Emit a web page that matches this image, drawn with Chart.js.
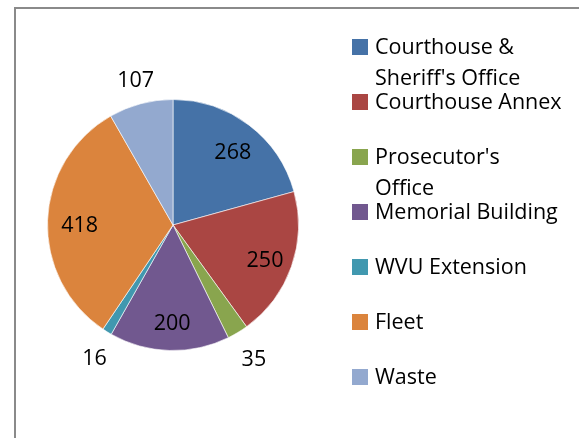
<!DOCTYPE html>
<html>
<head>
<meta charset="utf-8">
<script src="https://cdn.jsdelivr.net/npm/chart.js@4"></script>
<style>
  html, body { margin: 0; padding: 0; background: #fff; }
  #wrap { position: relative; width: 579px; height: 438px; overflow: hidden; }
  #frame { position: absolute; left: 14px; top: 7px; width: 700px; height: 500px; border: 2px solid #8a8a8a; box-sizing: border-box; }
  #pieChart { position: absolute; left: 0; top: 0; }
  #legend { position: absolute; left: 352px; top: 39px; font-family: "Open Sans", sans-serif; font-size: 21.5px; color: #000; }
  .item { position: relative; height: 55px; }
  .swatch { position: absolute; left: 0; top: 0; width: 16px; height: 16px; }
  .text { position: absolute; left: 23px; top: -9px; line-height: 31px; white-space: nowrap; }
</style>
</head>
<body>
<div id="wrap">
  <div id="frame"></div>
  <canvas id="pieChart" width="579" height="438"></canvas>
  <div id="legend"></div>
</div>
<script>
const categories = [
  ['Courthouse &', "Sheriff's Office"],
  ['Courthouse Annex'],
  ["Prosecutor's", 'Office'],
  ['Memorial Building'],
  ['WVU Extension'],
  ['Fleet'],
  ['Waste']
];
const values = [268, 250, 35, 200, 16, 418, 107];
const colors = ['#4572a7', '#aa4643', '#89a54e', '#71588f', '#4198af', '#db843d', '#93a9cf'];

// legend on the right, built from the same arrays
const legend = document.querySelector('#legend');
categories.forEach((lines, i) => {
  const item = document.createElement('div');
  item.className = 'item';
  const sw = document.createElement('div');
  sw.className = 'swatch';
  sw.style.background = colors[i];
  const tx = document.createElement('div');
  tx.className = 'text';
  tx.innerHTML = lines.join('<br>');
  item.appendChild(sw);
  item.appendChild(tx);
  legend.appendChild(item);
});

// value labels: inside for big slices, outside for small ones
const valueLabels = {
  id: 'valueLabels',
  afterDatasetsDraw(chart) {
    const ctx = chart.ctx;
    const meta = chart.getDatasetMeta(0);
    const total = values.reduce((a, b) => a + b, 0);
    ctx.save();
    ctx.font = '21.5px "Open Sans", sans-serif';
    ctx.fillStyle = '#000';
    ctx.textAlign = 'center';
    ctx.textBaseline = 'middle';
    meta.data.forEach((arc, i) => {
      const p = arc.getProps(['x', 'y', 'startAngle', 'endAngle', 'outerRadius']);
      const mid = (p.startAngle + p.endAngle) / 2;
      const f = values[i] / total < 0.1 ? 1.22 : 0.76;
      const x = p.x + Math.cos(mid) * p.outerRadius * f;
      const y = p.y + Math.sin(mid) * p.outerRadius * f;
      ctx.fillText(values[i], x + 2, y + 4);
    });
    ctx.restore();
  }
};

const ctx = document.querySelector('#pieChart').getContext('2d');
new Chart(ctx, {
  type: 'pie',
  data: {
    labels: categories.map(l => l.join(' ')),
    datasets: [{
      data: values,
      backgroundColor: colors,
      borderColor: 'rgba(255,255,255,0.6)',
      borderWidth: 1
    }]
  },
  options: {
    responsive: false,
    animation: false,
    layout: { padding: { left: 47, right: 280, top: 98, bottom: 86 } },
    plugins: {
      legend: { display: false },
      tooltip: { enabled: false }
    }
  },
  plugins: [valueLabels]
});
</script>
</body>
</html>
